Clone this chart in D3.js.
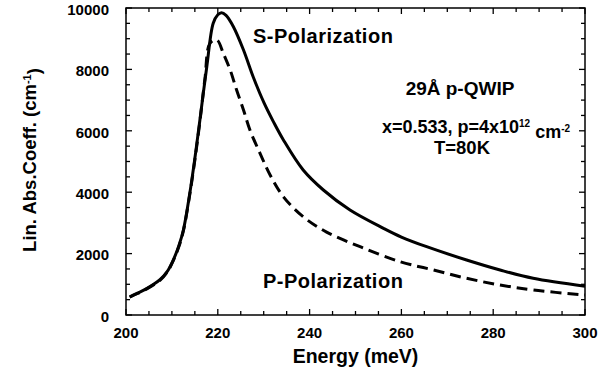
<!DOCTYPE html>
<meta charset="utf-8">
<script src="https://d3js.org/d3.v7.min.js"></script>
<style>
  body { margin: 0; background: #fff; }
  text { font-family: "Liberation Sans", Arial, sans-serif; font-weight: bold; fill: #000; }
</style>
<div id="chart"></div>
<script>
    // S-polarization (solid)
    var sEnergy = [200.8, 202.5, 204.5, 207.4, 209, 210.3, 211.5, 212.5, 213.9, 215, 216.1, 217.6, 219, 220, 220.8, 221.8, 223.4, 225.6, 227.7, 230.1, 232.1, 234.3, 238.6, 243, 248.8, 256.1, 260, 265.5, 274.2, 281.5, 288.7, 300];
    var sValue = [590, 710, 860, 1150, 1420, 1792, 2250, 2769, 3964, 5100, 6352, 8088, 9502, 9780, 9847, 9760, 9391, 8632, 7762, 6900, 6300, 5700, 4723, 4072, 3420, 2824, 2540, 2225, 1792, 1466, 1195, 940];

    // P-polarization (dashed)
    var pEnergy = [200.8, 202.5, 204.5, 207.4, 209, 210.3, 211.5, 212.5, 213.9, 215, 216.1, 217.2, 218.3, 219.8, 221.2, 222.7, 224.1, 225.6, 227, 229.2, 231.4, 234.3, 238.6, 243.7, 251, 259.7, 267, 274.2, 281.5, 288.7, 300];
    var pValue = [580, 700, 850, 1130, 1400, 1770, 2220, 2740, 3930, 5050, 6300, 7700, 8850, 8958, 8524, 7980, 7329, 6678, 6026, 5267, 4560, 3850, 3200, 2700, 2225, 1736, 1466, 1195, 977, 814, 651];

    var xTicks = [200, 220, 240, 260, 280, 300];
    var yTicks = [0, 2000, 4000, 6000, 8000, 10000];

    var width = 613, height = 377;
    var margin = {top: 8, right: 28, bottom: 62, left: 126};
    var w = width - margin.left - margin.right;
    var h = height - margin.top - margin.bottom;

    var svg = d3.select("#chart").append("svg")
        .attr("width", width)
        .attr("height", height);

    var g = svg.append("g")
        .attr("transform", "translate(" + margin.left + "," + margin.top + ")");

    var x = d3.scaleLinear().domain([200, 300]).range([0, w]);
    var y = d3.scaleLinear().domain([0, 10000]).range([h, 0]);

    // minor + major ticks, pointing inward on all four sides
    var xMinor = d3.range(200, 301, 5);
    var yMinor = d3.range(0, 10001, 500);

    function tickLen(v, step) { return v % step === 0 ? 6 : 4; }

    g.selectAll(".xt-b").data(xMinor).enter().append("line")
        .attr("x1", d => x(d)).attr("x2", d => x(d))
        .attr("y1", h).attr("y2", d => h - tickLen(d, 20))
        .attr("stroke", "#000").attr("stroke-width", 1.3);
    g.selectAll(".xt-t").data(xMinor).enter().append("line")
        .attr("x1", d => x(d)).attr("x2", d => x(d))
        .attr("y1", 0).attr("y2", d => tickLen(d, 20))
        .attr("stroke", "#000").attr("stroke-width", 1.3);
    g.selectAll(".yt-l").data(yMinor).enter().append("line")
        .attr("y1", d => y(d)).attr("y2", d => y(d))
        .attr("x1", 0).attr("x2", d => tickLen(d, 2000))
        .attr("stroke", "#000").attr("stroke-width", 1.3);
    g.selectAll(".yt-r").data(yMinor).enter().append("line")
        .attr("y1", d => y(d)).attr("y2", d => y(d))
        .attr("x1", w).attr("x2", d => w - tickLen(d, 2000))
        .attr("stroke", "#000").attr("stroke-width", 1.3);

    // frame
    g.append("rect")
        .attr("width", w).attr("height", h)
        .attr("fill", "none").attr("stroke", "#000").attr("stroke-width", 1.5);

    // tick labels
    g.selectAll(".xl").data(xTicks).enter().append("text")
        .attr("x", d => x(d)).attr("y", h + 23)
        .attr("text-anchor", "middle").attr("font-size", "15px")
        .text(d => d);
    g.selectAll(".yl").data(yTicks).enter().append("text")
        .attr("x", -17).attr("y", d => y(d)).attr("dy", "0.45em")
        .attr("text-anchor", "end").attr("font-size", "15px")
        .text(d => d);

    // curves
    var line = d3.line()
        .x(d => x(d[0])).y(d => y(d[1]))
        .curve(d3.curveCatmullRom.alpha(0.5));

    g.append("path")
        .datum(d3.zip(pEnergy, pValue))
        .attr("d", line)
        .attr("fill", "none").attr("stroke", "#000").attr("stroke-width", 3)
        .attr("stroke-dasharray", "11,6");

    g.append("path")
        .datum(d3.zip(sEnergy, sValue))
        .attr("d", line)
        .attr("fill", "none").attr("stroke", "#000").attr("stroke-width", 3);

    // axis titles
    svg.append("text")
        .attr("x", margin.left + w / 2).attr("y", 363)
        .attr("text-anchor", "middle").attr("font-size", "19.5px")
        .text("Energy (meV)");

    var yl = svg.append("text")
        .attr("transform", "translate(36,160) rotate(-90)")
        .attr("text-anchor", "middle").attr("font-size", "18.5px");
    yl.append("tspan").text("Lin. Abs.Coeff. (cm");
    yl.append("tspan").attr("dy", "-0.5em").attr("font-size", "11px").text("-1");
    yl.append("tspan").attr("dy", "0.5em").text(")");

    // annotations
    svg.append("text").attr("x", 253).attr("y", 43).attr("font-size", "20px")
        .attr("letter-spacing", "0.5px").text("S-Polarization");
    svg.append("text").attr("x", 263).attr("y", 288).attr("font-size", "20px")
        .attr("letter-spacing", "0.5px").text("P-Polarization");

    svg.append("text").attr("x", 460).attr("y", 95).attr("text-anchor", "middle")
        .attr("font-size", "19px").text("29Å p-QWIP");

    var t2 = svg.append("text").attr("x", 476).attr("y", 133).attr("text-anchor", "middle")
        .attr("font-size", "18px");
    t2.append("tspan").text("x=0.533, p=4x10");
    t2.append("tspan").attr("dy", "-0.6em").attr("font-size", "10px").text("12");
    t2.append("tspan").attr("dy", "0.6em").text(" cm");
    t2.append("tspan").attr("dy", "-0.6em").attr("font-size", "10px").text("-2");

    svg.append("text").attr("x", 462).attr("y", 154).attr("text-anchor", "middle")
        .attr("font-size", "18.5px").text("T=80K");
</script>
